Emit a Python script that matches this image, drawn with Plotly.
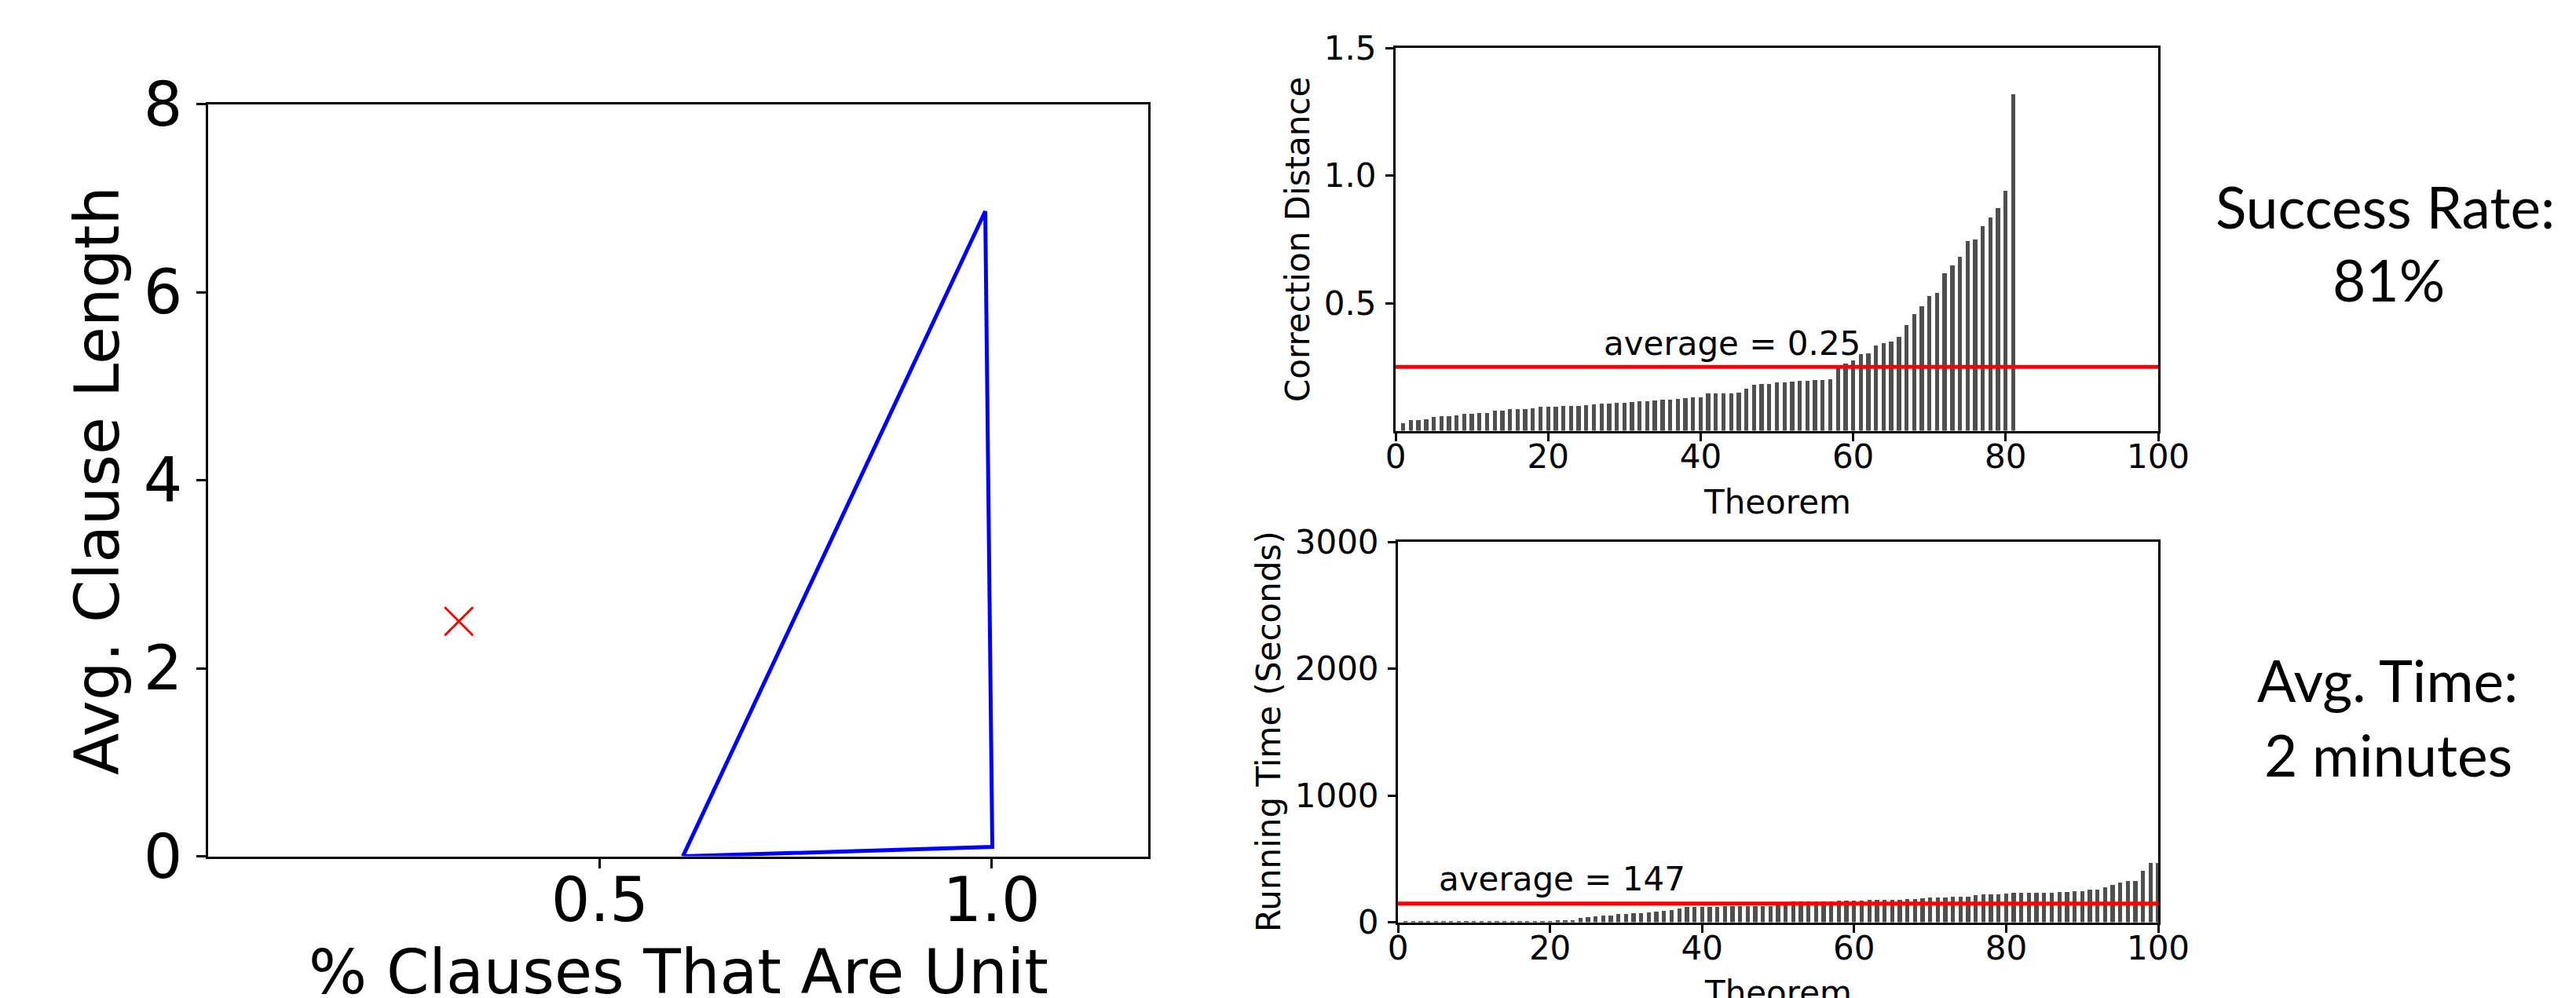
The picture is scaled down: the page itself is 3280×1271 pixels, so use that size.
import plotly.graph_objects as go

W, H = 3280, 1271

# ---------------- data ----------------
# left panel: region boundary (triangle) and the single red point
region_x = [0.606, 0.992, 1.001, 0.606]
region_y = [0.0, 6.86, 0.10, 0.0]
point_x = [0.32]
point_y = [2.5]
left_xticks = [0.5, 1.0]
left_xticklabels = ["0.5", "1.0"]
left_yticks = [0, 2, 4, 6, 8]

# top-right: correction distance for each solved theorem (sorted)
distance = [0.030, 0.042, 0.042, 0.045, 0.054, 0.057, 0.057, 0.061, 0.065, 0.068,
            0.070, 0.070, 0.078, 0.078, 0.084, 0.084, 0.084, 0.087, 0.093, 0.093,
            0.095, 0.097, 0.097, 0.097, 0.100, 0.103, 0.105, 0.106, 0.108, 0.109,
            0.112, 0.116, 0.117, 0.119, 0.122, 0.123, 0.124, 0.129, 0.132, 0.132,
            0.145, 0.147, 0.147, 0.147, 0.151, 0.166, 0.181, 0.182, 0.184, 0.190,
            0.190, 0.192, 0.196, 0.196, 0.198, 0.200, 0.203, 0.250, 0.262, 0.276,
            0.300, 0.302, 0.335, 0.343, 0.348, 0.367, 0.414, 0.458, 0.489, 0.527,
            0.539, 0.616, 0.647, 0.681, 0.742, 0.749, 0.803, 0.834, 0.872, 0.939,
            1.319]
distance_theorem = list(range(1, len(distance) + 1))
avg_distance = 0.25
distance_yticks = [0.5, 1.0, 1.5]
distance_yticklabels = ["0.5", "1.0", "1.5"]

# bottom-right: running time (seconds) for each theorem (sorted)
running_time = [4, 4, 4, 5, 5, 5, 5, 5, 6, 6,
                6, 6, 6, 7, 8, 9, 9, 10, 10, 11,
                16, 16, 17, 35, 41, 45, 52, 56, 64, 68,
                72, 74, 80, 87, 91, 99, 109, 122, 123, 123,
                124, 124, 125, 125, 126, 126, 127, 127, 128, 140,
                150, 165, 165, 165, 165, 166, 166, 171, 171, 171,
                171, 177, 177, 177, 177, 177, 182, 182, 188, 194,
                194, 194, 200, 200, 200, 213, 219, 219, 219, 225,
                231, 231, 231, 231, 231, 231, 237, 237, 244, 244,
                260, 260, 279, 297, 316, 328, 328, 407, 466, 471]
time_theorem = list(range(1, len(running_time) + 1))
avg_time = 147
time_yticks = [0, 1000, 2000, 3000]
theorem_ticks = [0, 20, 40, 60, 80, 100]

success_text = ["Success Rate:", "81%"]
time_text = ["Avg. Time:", "2 minutes"]

# ---------------- helpers ----------------
def fx(px):
    return px / W

def fy(py):
    return 1 - py / H

FONT = "DejaVu Sans"
BAR_COLOR = "#4f4f4f"

fig = go.Figure()

# left panel
fig.add_trace(go.Scatter(x=region_x, y=region_y, mode="lines",
                         line=dict(color="#0000ff", width=5),
                         xaxis="x", yaxis="y", cliponaxis=False, showlegend=False))
fig.add_trace(go.Scatter(x=point_x, y=point_y, mode="markers",
                         marker=dict(symbol="x-thin", size=36,
                                     line=dict(color="#ff0000", width=3)),
                         xaxis="x", yaxis="y", showlegend=False))

# top-right
fig.add_trace(go.Bar(x=distance_theorem, y=distance, width=0.55,
                     marker=dict(color=BAR_COLOR, line=dict(width=0)),
                     xaxis="x2", yaxis="y2", showlegend=False))
fig.add_trace(go.Scatter(x=[0, 100], y=[avg_distance, avg_distance], mode="lines",
                         line=dict(color="#ff0000", width=5),
                         xaxis="x2", yaxis="y2", showlegend=False))

# bottom-right
fig.add_trace(go.Bar(x=time_theorem, y=running_time, width=0.55,
                     marker=dict(color=BAR_COLOR, line=dict(width=0)),
                     xaxis="x3", yaxis="y3", showlegend=False))
fig.add_trace(go.Scatter(x=[0, 100], y=[avg_time, avg_time], mode="lines",
                         line=dict(color="#ff0000", width=5),
                         xaxis="x3", yaxis="y3", showlegend=False))

def axis_common(size, ticklen, standoff=0):
    return dict(showline=True, linecolor="black", linewidth=3, mirror=True,
                ticks="outside", ticklen=ticklen, tickwidth=3, tickcolor="black",
                showgrid=False, zeroline=False, automargin=False,
                ticklabelstandoff=standoff,
                tickfont=dict(family=FONT, size=size, color="black"))

# panel pixel boxes
L = dict(x0=257, x1=1454, y0=124.5, y1=1082.6)
T = dict(x0=1769, x1=2740, y0=53, y1=540.6)
B = dict(x0=1772, x1=2740, y0=682, y1=1166.6)

fig.update_layout(
    width=W, height=H, margin=dict(l=0, r=0, t=0, b=0),
    paper_bgcolor="white", plot_bgcolor="white", template="none",
    bargap=0,
    xaxis=dict(domain=[fx(L["x0"]), fx(L["x1"])], range=[0, 1.2],
               tickvals=left_xticks, ticktext=left_xticklabels,
               anchor="y", **axis_common(78, 12, -26)),
    yaxis=dict(domain=[fy(L["y1"]), fy(L["y0"])], range=[0, 8],
               tickvals=left_yticks, anchor="x", **axis_common(78, 12, 2)),
    xaxis2=dict(domain=[fx(T["x0"]), fx(T["x1"])], range=[0, 100],
                tickvals=theorem_ticks, anchor="y2", **axis_common(42, 10, -16)),
    yaxis2=dict(domain=[fy(T["y1"]), fy(T["y0"])], range=[0, 1.5],
                tickvals=distance_yticks, ticktext=distance_yticklabels,
                anchor="x2", **axis_common(42, 10, 3)),
    xaxis3=dict(domain=[fx(B["x0"]), fx(B["x1"])], range=[0, 100],
                tickvals=theorem_ticks, anchor="y3", **axis_common(42, 10, -16)),
    yaxis3=dict(domain=[fy(B["y1"]), fy(B["y0"])], range=[0, 3000],
                tickvals=time_yticks, anchor="x3", **axis_common(42, 10, 3)),
)

ann = []
def text(x, y, s, size, family=FONT, angle=0, xanchor="center", yanchor="middle",
         xref="paper", yref="paper"):
    ann.append(dict(x=x, y=y, text=s, showarrow=False, textangle=angle,
                    xref=xref, yref=yref, xanchor=xanchor, yanchor=yanchor,
                    font=dict(family=family, size=size, color="black")))

# axis titles (left)
text(fx(856), fy(1230), "% Clauses That Are Unit", 78)
text(fx(116), fy(604), "Avg. Clause Length", 78, angle=-90)
# axis titles (right)
text(fx(2255), fy(631), "Theorem", 42)
text(fx(1645), fy(297), "Correction Distance", 42, angle=-90)
text(fx(2256), fy(1256), "Theorem", 42)
text(fx(1608), fy(924), "Running Time (Seconds)", 42, angle=-90)

# average labels (data coords)
text(27.1, 0.343, "average = %.2f" % avg_distance, 42, xanchor="left",
     xref="x2", yref="y2")
text(5.2, 340, "average = %d" % avg_time, 42, xanchor="left",
     xref="x3", yref="y3")

# side texts
text(fx(3029), fy(255), success_text[0], 73, family="Lato")
text(fx(3033), fy(348), success_text[1], 73, family="Lato")
text(fx(3032), fy(858), time_text[0], 73, family="Lato")
text(fx(3033), fy(953), time_text[1], 73, family="Lato")

fig.update_layout(annotations=ann)

fig.write_html("out.html")
